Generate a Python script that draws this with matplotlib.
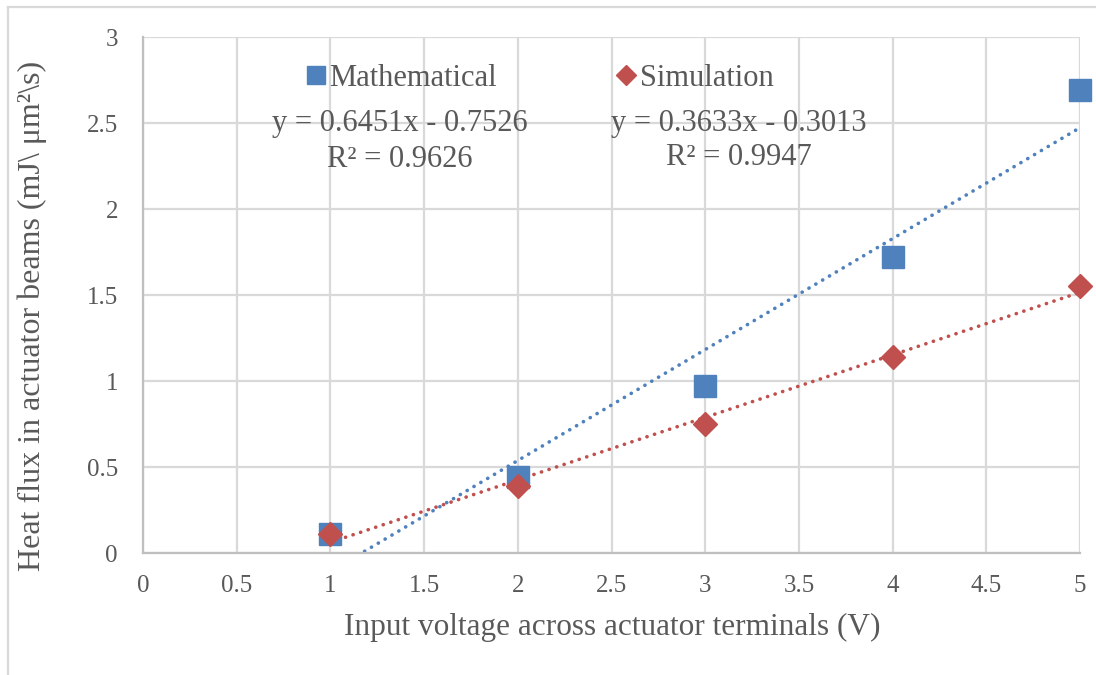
import matplotlib
matplotlib.use("Agg")
import numpy as np
import matplotlib.pyplot as plt
from matplotlib.lines import Line2D

# data
voltage = [1, 2, 3, 4, 5]
mathematical = [0.11, 0.44, 0.97, 1.72, 2.69]
simulation = [0.11, 0.39, 0.75, 1.14, 1.55]

# trendline coefficients as printed on the chart
trend_math = (0.6451, -0.7526)
trend_sim = (0.3633, -0.3013)
eq_math = ["y = 0.6451x - 0.7526", "R² = 0.9626"]
eq_sim = ["y = 0.3633x - 0.3013", "R² = 0.9947"]

x_ticks = [0, 0.5, 1, 1.5, 2, 2.5, 3, 3.5, 4, 4.5, 5]
x_tick_labels = ["0", "0.5", "1", "1.5", "2", "2.5", "3", "3.5", "4", "4.5", "5"]
y_ticks = [0, 0.5, 1, 1.5, 2, 2.5, 3]
y_tick_labels = ["0", "0.5", "1", "1.5", "2", "2.5", "3"]

blue = "#4F81BD"
red = "#C0504D"
textgray = "#595959"
gridgray = "#D9D9D9"

plt.rcParams['font.family'] = ['Liberation Serif', 'DejaVu Serif']

fig = plt.figure(figsize=(10.96, 6.75), dpi=100)
ax = fig.add_axes([143/1096, 1-553/675, (1080-143)/1096, (553-37)/675])

ax.set_xlim(0, 5)
ax.set_ylim(0, 3)
ax.set_xticks(x_ticks)
ax.set_xticklabels(x_tick_labels)
ax.set_yticks(y_ticks)
ax.set_yticklabels(y_tick_labels)
ax.tick_params(axis='both', length=0, labelsize=18, labelcolor=textgray)
ax.tick_params(axis='x', pad=16)
ax.tick_params(axis='y', pad=18)
ax.grid(True, color=gridgray, linewidth=1.6)
ax.set_axisbelow(True)
for side in ['top', 'right']:
    ax.spines[side].set_visible(False)
for side in ['left', 'bottom']:
    ax.spines[side].set_color("#BFBFBF")
    ax.spines[side].set_linewidth(1.6)

# trendlines (dotted)
xs = np.array([voltage[0], voltage[-1]], dtype=float)
dots = (0, (0.05, 2.15))
ax.plot(xs, trend_math[0]*xs + trend_math[1], color=blue, lw=2.6,
        linestyle=dots, dash_capstyle='round', zorder=2)
ax.plot(xs, trend_sim[0]*xs + trend_sim[1], color=red, lw=2.6,
        linestyle=dots, dash_capstyle='round', zorder=2)

# series
ax.plot(voltage, mathematical, 's', color=blue, markersize=16, zorder=3, clip_on=False)
ax.plot(voltage, simulation, 'D', color=red, markersize=12.5, zorder=4, clip_on=False)

# legend
handles = [Line2D([], [], marker='s', color=blue, linestyle='None', markersize=13),
           Line2D([], [], marker='D', color=red, linestyle='None', markersize=10)]
leg = ax.legend(handles, ["Mathematical", "Simulation"], ncol=2, frameon=False,
                loc='center', bbox_to_anchor=((540-143)/937, (553-78)/516),
                fontsize=22, handlelength=0.6, handletextpad=0.15, columnspacing=3.92)
for t in leg.get_texts():
    t.set_color(textgray)

# trendline equations
ax.text(1.371, 2.5, eq_math[0], ha='center', va='center', fontsize=22, color=textgray)
ax.text(1.371, 2.29, eq_math[1], ha='center', va='center', fontsize=22, color=textgray)
ax.text(3.18, 2.5, eq_sim[0], ha='center', va='center', fontsize=22, color=textgray)
ax.text(3.18, 2.3, eq_sim[1], ha='center', va='center', fontsize=22, color=textgray)

# axis titles
fig.text(612/1096, 1-627/675, "Input voltage across actuator terminals (V)",
         ha='center', va='center', fontsize=22.5, color=textgray)
fig.text(32/1096, 1-316/675, "Heat flux in actuator beams (mJ\\ μm²\\s)",
         ha='center', va='center', rotation=90, fontsize=23, color=textgray)

# chart area border
fig.add_artist(Line2D([8/1096, 8/1096], [0, 1-7/675], color=gridgray, lw=1.6))
fig.add_artist(Line2D([8/1096, 1], [1-7/675, 1-7/675], color=gridgray, lw=1.6))

fig.savefig("out.png", dpi=100)
